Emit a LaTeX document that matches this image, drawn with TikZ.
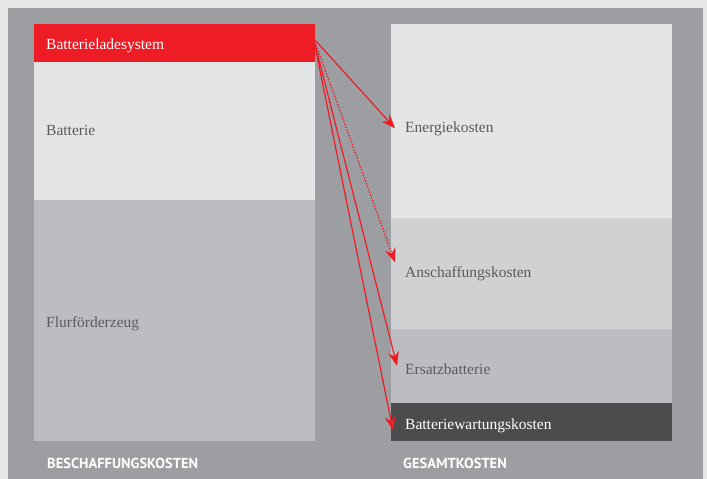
\documentclass[tikz,border=0pt]{standalone}
\usepackage{fontspec}
\setmainfont{Liberation Serif}
\newfontfamily\labfont{PT Sans}
\usetikzlibrary{arrows.meta}
\definecolor{bgout}{HTML}{E5E6E8}
\definecolor{panel}{HTML}{9D9EA2}
\definecolor{lightb}{HTML}{E4E5E7}
\definecolor{midb}{HTML}{D0D1D3}
\definecolor{flurb}{HTML}{BCBDC0}
\definecolor{darkb}{HTML}{4B4C4E}
\definecolor{redb}{HTML}{EE1C25}
\definecolor{txt}{HTML}{5A5B5E}
\tikzset{
  lbl/.style={anchor=base west, inner sep=0pt, text=txt, font=\fontsize{15.5}{18}\selectfont},
  captxt/.style={anchor=base west, inner sep=0pt, text=white, font=\labfont\bfseries\fontsize{14.5}{17}\selectfont},
  arr/.style={draw=redb, line width=1.2pt, -{Stealth[length=14pt,width=11pt]}},
}
\begin{document}
\begin{tikzpicture}[x=1pt,y=-1pt]
\useasboundingbox (0,0) rectangle (707,479);
\fill[bgout] (0,0) rectangle (707,479);
\fill[panel] (8,8) rectangle (703,479);
% left column
\fill[redb] (34,24) rectangle (315,62);
\fill[lightb] (34,62) rectangle (315,200);
\fill[flurb] (34,200) rectangle (315,441);
% right column
\fill[lightb] (391,24) rectangle (672,218);
\fill[midb] (391,218) rectangle (672,329);
\fill[flurb] (391,329) rectangle (672,403);
\fill[darkb] (391,403) rectangle (672,441);
% labels
\node[lbl, text=white] (hdr) at (46,49) {Batterieladesystem};
\node[lbl] (batt) at (46,135) {Batterie};
\node[lbl] (flur) at (46,327) {Flurförderzeug};
\node[lbl] (ener) at (405,132) {Energiekosten};
\node[lbl] (ansch) at (405,277) {Anschaffungskosten};
\node[lbl] (ersatz) at (405,374) {Ersatzbatterie};
\node[lbl, text=white] (wart) at (405,429) {Batteriewartungskosten};
\node[captxt] (besch) at (47,468) {BESCHAFFUNGSKOSTEN};
\node[captxt] (gesamt) at (403,468) {GESAMTKOSTEN};
% arrow start points
\coordinate (s1) at (315,40);
\coordinate (s2) at (315,42);
\coordinate (s3) at (315,44);
\coordinate (s4) at (315,46);
% arrows
\draw[arr] (s1) -- ([xshift=-10pt,yshift=0pt]ener.west);
\draw[arr, dash pattern=on 1.5pt off 1.5pt, line width=1.2pt] (s2) -- ([xshift=-10pt,yshift=11pt]ansch.west);
\draw[arr] (s3) -- ([xshift=-8pt,yshift=3pt]ersatz.west);
\draw[arr] (s4) -- ([xshift=-12pt,yshift=-5pt]wart.west);
\end{tikzpicture}
\end{document}
